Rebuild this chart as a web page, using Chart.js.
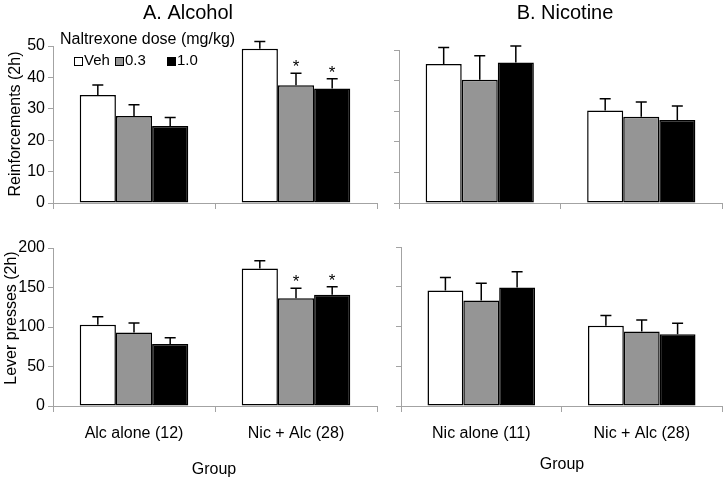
<!DOCTYPE html>
<html>
<head>
<meta charset="utf-8">
<title>Naltrexone dose effects</title>
<script src="https://cdn.jsdelivr.net/npm/chart.js@4.4.0/dist/chart.umd.min.js"></script>
<style>
  html, body { margin: 0; padding: 0; background: #fff; }
  #wrap { position: relative; width: 726px; height: 479px; overflow: hidden; }
  #wrap canvas { position: absolute; left: 0; top: 0; }
</style>
</head>
<body>
<div id="wrap">
  <canvas id="alcReinf" width="726" height="479"></canvas>
  <canvas id="nicReinf" width="726" height="479"></canvas>
  <canvas id="alcPress" width="726" height="479"></canvas>
  <canvas id="nicPress" width="726" height="479"></canvas>
</div>
<script>
// --- data ---
const doseLabels = ['Veh', '0.3', '1.0'];
const alcGroups = ['Alc alone (12)', 'Nic + Alc (28)'];
const nicGroups = ['Nic alone (11)', 'Nic + Alc (28)'];
const reinfTicks = [0, 10, 20, 30, 40, 50];
const pressTicks = [0, 50, 100, 150, 200];

// A. Alcohol - reinforcements (mean, sem)
const alcReinfVeh = [34.4, 49.1];
const alcReinf03 = [27.7, 37.5];
const alcReinf10 = [24.5, 36.5];
const alcReinfErrVeh = [3.2, 2.3];
const alcReinfErr03 = [3.6, 3.8];
const alcReinfErr10 = [2.7, 3.1];

// A. Alcohol - lever presses
const alcPressVeh = [103, 174];
const alcPress03 = [93, 136.5];
const alcPress10 = [78.4, 140.7];
const alcPressErrVeh = [10, 10];
const alcPressErr03 = [12, 12.5];
const alcPressErr10 = [8, 10.3];

// B. Nicotine - reinforcements
const nicReinfVeh = [45.4, 30.2];
const nicReinf03 = [40.3, 28.2];
const nicReinf10 = [45.9, 27.1];
const nicReinfErrVeh = [5.4, 3.9];
const nicReinfErr03 = [7.8, 4.8];
const nicReinfErr10 = [5.4, 4.6];

// B. Nicotine - lever presses
const nicPressVeh = [145.2, 100.8];
const nicPress03 = [132.6, 93.6];
const nicPress10 = [149, 90.3];
const nicPressErrVeh = [16.4, 12.9];
const nicPressErr03 = [21.9, 14.7];
const nicPressErr10 = [20, 13.7];

// significance vs vehicle (*)
const alcSigVeh = [false, false];
const alcSig03 = [false, true];
const alcSig10 = [false, true];
const noSig = [false, false];

// --- styles ---
const FONT = "'Liberation Sans', Arial, Helvetica, sans-serif";
const doseColors = ['#ffffff', '#959595', '#000000'];
const axisColor = '#a3a3a3';
const Y_BOX = 50;   // width reserved for y tick labels
const X_BOX = 40;   // height reserved for x tick labels

Chart.defaults.font.family = FONT;
Chart.defaults.color = '#000';

// error bars + asterisks
const errorBarPlugin = {
    id: 'errorBars',
    afterDatasetsDraw: function (chart) {
        var ctx = chart.ctx;
        var yScale = chart.scales.y;
        ctx.save();
        ctx.strokeStyle = '#000';
        ctx.lineWidth = 1.5;
        chart.data.datasets.forEach(function (ds, i) {
            var meta = chart.getDatasetMeta(i);
            meta.data.forEach(function (bar, j) {
                var top = yScale.getPixelForValue(ds.data[j] + ds.errors[j]);
                ctx.beginPath();
                ctx.moveTo(bar.x, bar.y);
                ctx.lineTo(bar.x, top);
                ctx.moveTo(bar.x - 5.5, top);
                ctx.lineTo(bar.x + 5.5, top);
                ctx.stroke();
                if (ds.stars[j]) {
                    ctx.fillStyle = '#000';
                    ctx.font = '17px ' + FONT;
                    ctx.textAlign = 'center';
                    ctx.textBaseline = 'alphabetic';
                    ctx.fillText('*', bar.x, top - 1);
                }
            });
        });
        ctx.restore();
    }
};

// free text: panel titles, axis titles
const panelTextPlugin = {
    id: 'panelText',
    afterDraw: function (chart, args, opts) {
        var ctx = chart.ctx;
        (opts.items || []).forEach(function (t) {
            ctx.save();
            ctx.fillStyle = '#000';
            ctx.font = t.size + 'px ' + FONT;
            ctx.textAlign = t.align || 'center';
            ctx.textBaseline = t.baseline || 'middle';
            ctx.translate(t.x, t.y);
            if (t.rotate) ctx.rotate(t.rotate);
            ctx.fillText(t.text, 0, 0);
            ctx.restore();
        });
    }
};

// legend in panel A (top)
const doseLegendPlugin = {
    id: 'doseLegend',
    afterDraw: function (chart, args, opts) {
        if (!opts.show) return;
        var ctx = chart.ctx;
        ctx.save();
        ctx.fillStyle = '#000';
        ctx.font = '16px ' + FONT;
        ctx.textAlign = 'left';
        ctx.textBaseline = 'middle';
        ctx.fillText('Naltrexone dose (mg/kg)', 60, 40);
        ctx.font = '15px ' + FONT;
        var boxX = [74, 115, 167];
        chart.data.datasets.forEach(function (ds, i) {
            ctx.fillStyle = ds.backgroundColor;
            ctx.fillRect(boxX[i] + 0.5, 57.5, 8, 8);
            ctx.strokeStyle = '#000';
            ctx.lineWidth = 1;
            ctx.strokeRect(boxX[i] + 0.5, 57.5, 8, 8);
            ctx.fillStyle = '#000';
            ctx.fillText(ds.label, boxX[i] + 10, 61);
        });
        ctx.restore();
    }
};

function makeDatasets(values, errors, stars) {
    return doseLabels.map(function (lab, i) {
        return {
            label: lab,
            data: values[i],
            errors: errors[i],
            stars: stars[i],
            backgroundColor: doseColors[i],
            borderColor: '#000',
            borderWidth: 1.5,
            borderSkipped: false,
            categoryPercentage: 0.67,
            barPercentage: 1.0
        };
    });
}

function makePanel(id, groups, values, errors, stars, area, ticks, cfg) {
    var ctx = document.getElementById(id).getContext('2d');
    return new Chart(ctx, {
        type: 'bar',
        data: { labels: groups, datasets: makeDatasets(values, errors, stars) },
        plugins: [errorBarPlugin, panelTextPlugin, doseLegendPlugin],
        options: {
            responsive: false,
            animation: false,
            devicePixelRatio: 1,
            layout: {
                padding: {
                    left: area.left - Y_BOX,
                    top: area.top,
                    right: 726 - area.right,
                    bottom: 479 - area.bottom - X_BOX
                }
            },
            scales: {
                x: {
                    offset: true,
                    grid: { offset: true, drawOnChartArea: false, tickLength: 6, color: axisColor },
                    border: { color: axisColor },
                    ticks: { display: cfg.xLabels, padding: 12, maxRotation: 0, autoSkip: false, font: { size: 16 } },
                    afterFit: function (s) { s.height = X_BOX; }
                },
                y: {
                    min: ticks[0],
                    max: ticks[ticks.length - 1],
                    afterBuildTicks: function (s) { s.ticks = ticks.map(function (v) { return { value: v }; }); },
                    grid: { drawOnChartArea: false, tickLength: 5, color: axisColor },
                    border: { color: axisColor },
                    ticks: { display: cfg.yLabels, padding: 3, font: { size: 16 } },
                    afterFit: function (s) { s.width = Y_BOX; }
                }
            },
            plugins: {
                legend: { display: false },
                tooltip: { enabled: false },
                panelText: { items: cfg.texts },
                doseLegend: { show: !!cfg.legend }
            }
        }
    });
}

makePanel('alcReinf', alcGroups,
    [alcReinfVeh, alcReinf03, alcReinf10],
    [alcReinfErrVeh, alcReinfErr03, alcReinfErr10],
    [alcSigVeh, alcSig03, alcSig10],
    { left: 53, right: 377, top: 46, bottom: 203 }, reinfTicks,
    {
        xLabels: false, yLabels: true, legend: true,
        texts: [
            { text: 'A. Alcohol', x: 188, y: 13, size: 20 },
            { text: 'Reinforcements (2h)', x: 20, y: 124, size: 16, baseline: 'alphabetic', rotate: -Math.PI / 2 }
        ]
    });

makePanel('nicReinf', nicGroups,
    [nicReinfVeh, nicReinf03, nicReinf10],
    [nicReinfErrVeh, nicReinfErr03, nicReinfErr10],
    [noSig, noSig, noSig],
    { left: 399, right: 722, top: 50, bottom: 203 }, reinfTicks,
    {
        xLabels: false, yLabels: false,
        texts: [{ text: 'B. Nicotine', x: 565, y: 13, size: 20 }]
    });

makePanel('alcPress', alcGroups,
    [alcPressVeh, alcPress03, alcPress10],
    [alcPressErrVeh, alcPressErr03, alcPressErr10],
    [alcSigVeh, alcSig03, alcSig10],
    { left: 53, right: 377, top: 248, bottom: 406 }, pressTicks,
    {
        xLabels: true, yLabels: true,
        texts: [
            { text: 'Lever presses (2h)', x: 15.5, y: 318, size: 16, baseline: 'alphabetic', rotate: -Math.PI / 2 },
            { text: 'Group', x: 214, y: 470, size: 16 }
        ]
    });

makePanel('nicPress', nicGroups,
    [nicPressVeh, nicPress03, nicPress10],
    [nicPressErrVeh, nicPressErr03, nicPressErr10],
    [noSig, noSig, noSig],
    { left: 401, right: 722, top: 247, bottom: 406 }, pressTicks,
    {
        xLabels: true, yLabels: false,
        texts: [{ text: 'Group', x: 562, y: 465, size: 16 }]
    });
</script>
</body>
</html>
